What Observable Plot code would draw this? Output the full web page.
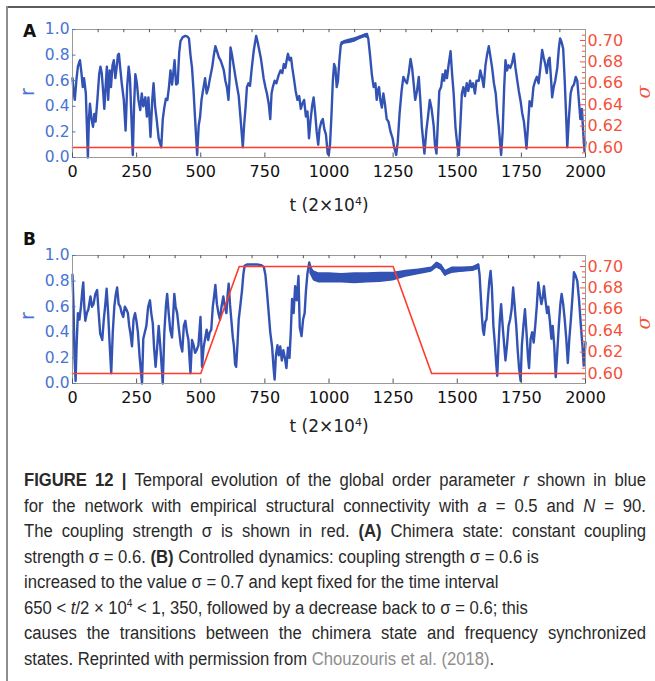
<!DOCTYPE html>
<html><head><meta charset="utf-8">
<script src="https://cdn.jsdelivr.net/npm/d3@7"></script>
<script src="https://cdn.jsdelivr.net/npm/@observablehq/plot@0.6"></script>
<style>
body{margin:0;background:#fff;}
#fig{position:relative;width:655px;height:681px;overflow:hidden;background:#fff;font-family:"DejaVu Sans",sans-serif;}
.abs{position:absolute;}
.plab{position:absolute;font-weight:bold;font-size:17px;color:#111;line-height:1;}
.xt{position:absolute;font-size:17px;color:#222;white-space:nowrap;transform:translateX(-50%);line-height:1;}
.xt sup{font-size:11px;vertical-align:6px;}
.yl{position:absolute;font-size:19px;line-height:1;transform:translate(-50%,-50%) rotate(-90deg);}
.yr{position:absolute;font-size:19px;line-height:1;transform:translate(-50%,-50%) rotate(-90deg);font-family:"DejaVu Serif",serif;font-style:italic;}
</style></head><body><div id="fig"></div>
<script>
// ---------- data ----------
const tA = [0,5,9,15,21,29,35,40,45,52,56,60,64,68,74,80,85,90,97,104,109,114,120,124,129,134,139,145,150,156,161,167,172,177,181,186,192,200,207,213,219,224,229,235,240,245,251,257,264,270,276,284,290,296,304,311,316,322,328,336,346,352,358,364,370,376,382,388,393,398,404,410,416,421,430,440,448,454,460,466,472,478,486,492,497,503,511,517,523,530,536,545,551,557,565,571,577,584,590,596,602,608,612,616,622,629,636,642,648,655,664,669,675,680,686,692,699,707,716,722,728,734,739,745,752,758,765,771,776,781,788,795,803,811,818,824,830,835,840,846,852,857,863,870,877,884,890,896,903,910,916,922,928,934,940,946,952,958,963,970,976,982,988,995,999,1004,1010,1015,1020,1025,1030,1035,1040,1046,1055,1070,1085,1100,1115,1130,1140,1148,1153,1160,1167,1174,1181,1186,1190,1195,1200,1206,1212,1218,1225,1232,1240,1248,1254,1262,1268,1275,1283,1290,1297,1304,1311,1318,1324,1330,1336,1343,1350,1356,1362,1372,1380,1386,1393,1400,1408,1413,1419,1425,1430,1437,1443,1449,1454,1460,1466,1474,1480,1486,1493,1500,1506,1512,1518,1524,1530,1537,1543,1550,1556,1562,1569,1575,1584,1590,1597,1603,1610,1616,1623,1630,1636,1643,1650,1656,1662,1671,1677,1683,1688,1694,1700,1707,1714,1721,1727,1734,1740,1747,1753,1760,1765,1770,1776,1782,1790,1797,1804,1810,1817,1824,1831,1837,1843,1849,1855,1860,1866,1870,1876,1882,1890,1896,1901,1907,1913,1919,1925,1929,1935,1942,1948,1955,1962,1968,1974,1980,1986,1991,1996,2000];
const rA = [0.62,0.50,0.45,0.60,0.71,0.76,0.66,0.55,0.62,0.50,0.25,0.00,0.30,0.42,0.30,0.24,0.34,0.28,0.45,0.65,0.71,0.66,0.50,0.38,0.55,0.71,0.45,0.68,0.55,0.72,0.76,0.62,0.70,0.80,0.81,0.70,0.58,0.45,0.21,0.55,0.71,0.62,0.35,0.02,0.40,0.65,0.58,0.45,0.37,0.50,0.40,0.47,0.32,0.47,0.16,0.45,0.58,0.40,0.30,0.15,0.08,0.30,0.39,0.46,0.45,0.55,0.68,0.57,0.66,0.76,0.57,0.58,0.82,0.91,0.94,0.95,0.945,0.93,0.80,0.70,0.52,0.30,0.02,0.25,0.31,0.45,0.55,0.62,0.50,0.55,0.62,0.71,0.80,0.87,0.82,0.78,0.76,0.72,0.68,0.60,0.55,0.45,0.60,0.86,0.80,0.71,0.62,0.55,0.48,0.31,0.08,0.25,0.40,0.55,0.58,0.56,0.70,0.84,0.95,0.90,0.84,0.78,0.71,0.62,0.55,0.50,0.42,0.30,0.50,0.55,0.60,0.58,0.64,0.68,0.66,0.73,0.70,0.76,0.81,0.76,0.78,0.70,0.62,0.52,0.45,0.48,0.38,0.42,0.45,0.32,0.36,0.15,0.29,0.40,0.47,0.35,0.20,0.10,0.22,0.28,0.30,0.22,0.18,0.03,0.02,0.10,0.35,0.60,0.73,0.70,0.55,0.60,0.75,0.88,0.90,0.91,0.91,0.92,0.94,0.95,0.96,0.965,0.93,0.80,0.65,0.55,0.58,0.45,0.52,0.55,0.45,0.39,0.50,0.42,0.30,0.28,0.20,0.15,0.08,0.02,0.12,0.34,0.52,0.63,0.60,0.58,0.66,0.77,0.70,0.58,0.45,0.52,0.63,0.45,0.24,0.03,0.22,0.32,0.45,0.38,0.25,0.10,0.03,0.30,0.52,0.55,0.65,0.60,0.68,0.62,0.72,0.83,0.65,0.50,0.24,0.10,0.02,0.25,0.50,0.55,0.48,0.58,0.52,0.60,0.55,0.58,0.50,0.60,0.60,0.68,0.62,0.55,0.72,0.80,0.87,0.78,0.70,0.58,0.50,0.35,0.24,0.02,0.20,0.55,0.76,0.68,0.72,0.70,0.74,0.81,0.70,0.60,0.52,0.44,0.35,0.28,0.18,0.07,0.25,0.44,0.40,0.55,0.60,0.63,0.58,0.70,0.84,0.78,0.73,0.66,0.76,0.78,0.60,0.47,0.55,0.60,0.70,0.85,0.93,0.90,0.85,0.60,0.30,0.08,0.30,0.50,0.55,0.57,0.63,0.60,0.45,0.30,0.38,0.20,0.05,0.12];
// synchronized band in A (envelope of the fast fluctuations)
const bandAt  = [1046,1060,1080,1100,1120,1140,1150];
const bandAlo = [0.87,0.885,0.89,0.90,0.92,0.935,0.93];
const bandAhi = [0.90,0.915,0.925,0.935,0.95,0.965,0.965];

const tB = [0,4,8,12,16,21,27,33,38,42,46,50,56,62,70,76,82,89,96,102,108,116,122,128,133,139,145,151,157,163,169,174,180,186,192,198,204,210,216,221,226,232,238,244,250,255,262,271,276,282,288,295,302,307,313,318,324,330,336,342,352,358,364,369,375,381,388,393,397,402,408,415,422,428,434,440,446,452,456,460,466,472,478,484,491,499,505,511,517,523,529,535,541,547,552,557,563,569,575,581,588,594,600,605,609,614,620,625,629,634,638,643,648,655,661,666,671,680,700,720,735,746,752,758,765,771,778,784,788,793,799,804,810,816,822,828,834,840,846,851,856,862,868,874,881,886,893,899,905,910,916,923,929,935,942,950,960,980,1000,1020,1040,1060,1080,1100,1120,1140,1160,1180,1200,1220,1240,1260,1280,1300,1320,1340,1360,1380,1400,1412,1422,1432,1442,1452,1462,1475,1490,1505,1520,1540,1560,1575,1582,1587,1591,1596,1600,1604,1609,1614,1619,1625,1630,1635,1641,1647,1652,1656,1661,1666,1671,1677,1683,1688,1694,1700,1706,1712,1718,1724,1730,1736,1741,1747,1752,1758,1764,1770,1776,1780,1786,1792,1798,1804,1810,1816,1822,1828,1834,1838,1844,1850,1855,1861,1867,1872,1878,1884,1890,1896,1902,1907,1913,1919,1925,1931,1937,1943,1950,1955,1962,1968,1975,1982,1988,1993,2000];
const rB = [0.85,0.60,0.20,0.02,0.30,0.55,0.50,0.60,0.72,0.79,0.60,0.49,0.55,0.58,0.68,0.60,0.62,0.70,0.73,0.55,0.39,0.34,0.50,0.62,0.74,0.55,0.30,0.08,0.40,0.60,0.70,0.75,0.62,0.60,0.55,0.52,0.60,0.58,0.55,0.45,0.39,0.29,0.50,0.55,0.48,0.40,0.20,0.00,0.35,0.40,0.45,0.60,0.65,0.55,0.47,0.28,0.13,0.28,0.45,0.30,0.00,0.40,0.60,0.70,0.55,0.42,0.36,0.55,0.70,0.60,0.55,0.42,0.30,0.25,0.45,0.49,0.40,0.34,0.20,0.08,0.34,0.30,0.24,0.26,0.30,0.52,0.13,0.28,0.35,0.42,0.34,0.40,0.42,0.60,0.68,0.77,0.62,0.55,0.50,0.60,0.68,0.60,0.55,0.70,0.78,0.62,0.48,0.36,0.30,0.15,0.13,0.30,0.50,0.62,0.73,0.85,0.92,0.93,0.93,0.93,0.925,0.91,0.85,0.72,0.55,0.40,0.29,0.12,0.03,0.22,0.30,0.22,0.29,0.18,0.26,0.20,0.12,0.28,0.20,0.40,0.66,0.55,0.76,0.65,0.84,0.44,0.37,0.50,0.55,0.72,0.86,0.945,0.90,0.88,0.84,0.82,0.83,0.82,0.82,0.83,0.82,0.82,0.81,0.82,0.82,0.82,0.82,0.82,0.82,0.825,0.83,0.84,0.85,0.86,0.86,0.87,0.875,0.88,0.89,0.92,0.94,0.92,0.88,0.85,0.87,0.88,0.885,0.88,0.885,0.89,0.89,0.92,0.93,0.85,0.71,0.53,0.42,0.38,0.48,0.50,0.65,0.80,0.88,0.75,0.45,0.30,0.15,0.06,0.30,0.50,0.62,0.45,0.30,0.18,0.30,0.45,0.50,0.58,0.75,0.60,0.45,0.25,0.12,0.02,0.30,0.45,0.58,0.40,0.20,0.12,0.35,0.40,0.32,0.45,0.60,0.79,0.70,0.62,0.68,0.76,0.65,0.55,0.60,0.49,0.35,0.45,0.30,0.05,0.25,0.45,0.62,0.70,0.62,0.50,0.35,0.16,0.35,0.50,0.70,0.87,0.84,0.80,0.65,0.45,0.30,0.14,0.32];
// synchronized band in B (envelope of the fast fluctuations)
const bandBt  = [925,940,960,1000,1050,1100,1150,1200,1250,1300,1350,1400,1420,1440,1455,1480,1520,1560,1585];
const bandBlo = [0.86,0.80,0.785,0.785,0.785,0.78,0.785,0.79,0.80,0.83,0.85,0.87,0.90,0.88,0.84,0.86,0.87,0.875,0.89];
const bandBhi = [0.93,0.88,0.865,0.865,0.86,0.865,0.865,0.87,0.87,0.885,0.895,0.91,0.95,0.93,0.885,0.91,0.91,0.915,0.935];

// coupling strength sigma
const sigTA = [0,2000];
const sigA  = [0.6,0.6];
const sigTB = [0,500,650,1250,1400,2000];
const sigB  = [0.6,0.6,0.7,0.7,0.6,0.6];

// ticks
const xTicks = [0,250,500,750,1000,1250,1500,1750,2000];
const xTopTicks = [100,200,300,400,500,600,700,800,900,1000,1100,1200,1300,1400,1500,1600,1700,1800,1900];
const rTicks = [0,0.2,0.4,0.6,0.8,1.0];
const sigTicks = [0.60,0.62,0.64,0.66,0.68,0.70];
const sigMinor = [0.595,0.605,0.61,0.615,0.625,0.63,0.635,0.645,0.65,0.655,0.665,0.67,0.675,0.685,0.69,0.695,0.705];

// ---------- drawing ----------
const BLUE = "#3353b4", BLUE_T = "#4a74d2", RED = "#ff3b2a", RED_T = "#f4523c";
const S0 = 0.5907, S1 = 0.7103;           // sigma values at r = 0 and r = 1
const toR = s => (s - S0) / (S1 - S0);
const fromR = r => r * (S1 - S0) + S0;

function panel(t, r, st, sv, bt, blo, bhi) {
  const data = t.map((x, i) => ({t: x, r: r[i]}));
  const sig = st.map((x, i) => ({t: x, r: toR(sv[i])}));
  const band = bt.map((x, i) => ({t: x, lo: blo[i], hi: bhi[i]}));
  return Plot.plot({
    width: 655, height: 220,
    marginTop: 29, marginBottom: 63, marginLeft: 72, marginRight: 70,
    x: {domain: [0, 2000]},
    y: {domain: [0, 1]},
    style: {fontFamily: "DejaVu Sans, sans-serif", background: "transparent", overflow: "visible"},
    marks: [
      Plot.areaY(band, {x: "t", y1: "lo", y2: "hi", fill: BLUE, curve: "linear"}),
      Plot.line(data, {x: "t", y: "r", stroke: BLUE, strokeWidth: 2.4, strokeLinejoin: "round"}),
      Plot.line(sig, {x: "t", y: "r", stroke: RED, strokeWidth: 1.6}),
      Plot.frame({stroke: "#9a9a9a", strokeWidth: 1}),
      Plot.ruleX(xTicks, {y1: 0, y2: 0.035, stroke: "#555"}),
      Plot.ruleX(xTopTicks, {y1: 0.975, y2: 1, stroke: "#555"}),
      Plot.ruleY(rTicks, {x1: 0, x2: 14, stroke: BLUE_T}),
      Plot.ruleY(sigTicks.map(toR), {x1: 1980, x2: 2000, stroke: RED_T}),
      Plot.ruleY(sigMinor.map(toR), {x1: 1988, x2: 2000, stroke: RED_T}),
      Plot.axisX(xTicks, {tickSize: 0, tickPadding: 8, fontSize: 16, fill: "#111", label: null, tickFormat: d => String(d)}),
      Plot.axisY(rTicks, {anchor: "left", tickSize: 0, tickPadding: 3, fontSize: 15.5, fill: BLUE_T, label: null, tickFormat: d => d.toFixed(1)}),
      Plot.axisY(sigTicks.map(toR), {anchor: "right", tickSize: 0, tickPadding: 2, fontSize: 16, fill: RED_T, label: null, tickFormat: d => fromR(d).toFixed(2)})
    ]
  });
}

const fig = document.getElementById("fig");
function add(html) { fig.insertAdjacentHTML("beforeend", html); }

const svgA = panel(tA, rA, sigTA, sigA, bandAt, bandAlo, bandAhi);
svgA.style.position = "absolute"; svgA.style.left = "0px"; svgA.style.top = "0px";
fig.appendChild(svgA);
const svgB = panel(tB, rB, sigTB, sigB, bandBt, bandBlo, bandBhi);
svgB.style.position = "absolute"; svgB.style.left = "0px"; svgB.style.top = "226px";
fig.appendChild(svgB);

// borders
add('<div class="abs" style="left:7px;top:6px;width:648px;height:2px;background:#5c5c5c"></div>');
add('<div class="abs" style="left:6px;top:6px;width:2px;height:675px;background:#8d8d8d"></div>');

// panel letters
add('<div class="plab" style="left:23px;top:23px">A</div>');
add('<div class="plab" style="left:23px;top:231px">B</div>');

// axis titles
add('<div class="xt" style="left:329px;top:196px">t (2×10<sup>4</sup>)</div>');
add('<div class="xt" style="left:329px;top:417px">t (2×10<sup>4</sup>)</div>');
add(`<div class="yl" style="left:27px;top:92px;color:${BLUE_T}">r</div>`);
add(`<div class="yl" style="left:27px;top:316px;color:${BLUE_T}">r</div>`);
add(`<div class="yr" style="left:643px;top:92px;color:${RED_T}">σ</div>`);
add(`<div class="yr" style="left:643px;top:323px;color:${RED_T}">σ</div>`);

// caption: [text, right edge in px, justified?]
const capLines = [
  ['<tspan font-weight="bold">FIGURE 12 |</tspan> Temporal evolution of the global order parameter <tspan font-style="italic">r</tspan> shown in blue', 646, true],
  ['for the network with empirical structural connectivity with <tspan font-style="italic">a</tspan> = 0.5 and <tspan font-style="italic">N</tspan> = 90.', 646, true],
  ['The coupling strength σ is shown in red. <tspan font-weight="bold">(A)</tspan> Chimera state: constant coupling', 646, true],
  ['strength σ = 0.6. <tspan font-weight="bold">(B)</tspan> Controlled dynamics: coupling strength σ = 0.6 is', 507, false],
  ['increased to the value σ = 0.7 and kept fixed for the time interval', 490, false],
  ['650 &lt; <tspan font-style="italic">t</tspan>/2 × 10<tspan font-size="11" dy="-7">4</tspan><tspan dy="7"> &lt; 1, 350, followed by a decrease back to σ = 0.6; this</tspan>', 533, false],
  ['causes the transitions between the chimera state and frequency synchronized', 646, true],
  ['states. Reprinted with permission from <tspan fill="#8e8e8e">Chouzouris et al. (2018)</tspan>.', 474, false]
];
const NS = "http://www.w3.org/2000/svg";
const X0 = 24;
const capSvg = document.createElementNS(NS, "svg");
capSvg.setAttribute("width", 655); capSvg.setAttribute("height", 221);
capSvg.setAttribute("class", "abs");
capSvg.style.left = "0px"; capSvg.style.top = "460px";
fig.appendChild(capSvg);
const texts = capLines.map(([s], i) => {
  const tx = document.createElementNS(NS, "text");
  tx.setAttribute("font-family", "Liberation Sans, Arial, sans-serif");
  tx.setAttribute("font-size", "18");
  tx.setAttribute("fill", "#2a2a2a");
  tx.innerHTML = s;
  capSvg.appendChild(tx);
  return tx;
});
// common horizontal condensation from the non-justified lines (slightly relaxed)
const ratios = capLines.map(([, right, just], i) => just ? null : (right - X0) / texts[i].getComputedTextLength()).filter(v => v);
const K = Math.min(1, Math.max(0.72, d3.mean(ratios) * 1.03));
texts.forEach((tx, i) => {
  const [, right, just] = capLines[i];
  const y = 26 + i * 25.5;
  tx.setAttribute("transform", `translate(${X0},${y}) scale(${K},1)`);
  if (just) {
    const L = tx.getComputedTextLength();
    const n = (tx.textContent.match(/ /g) || []).length;
    const target = (right - X0) / K;
    tx.style.wordSpacing = Math.max(0, (target - L) / n) + "px";
  }
});
</script>
</body></html>
